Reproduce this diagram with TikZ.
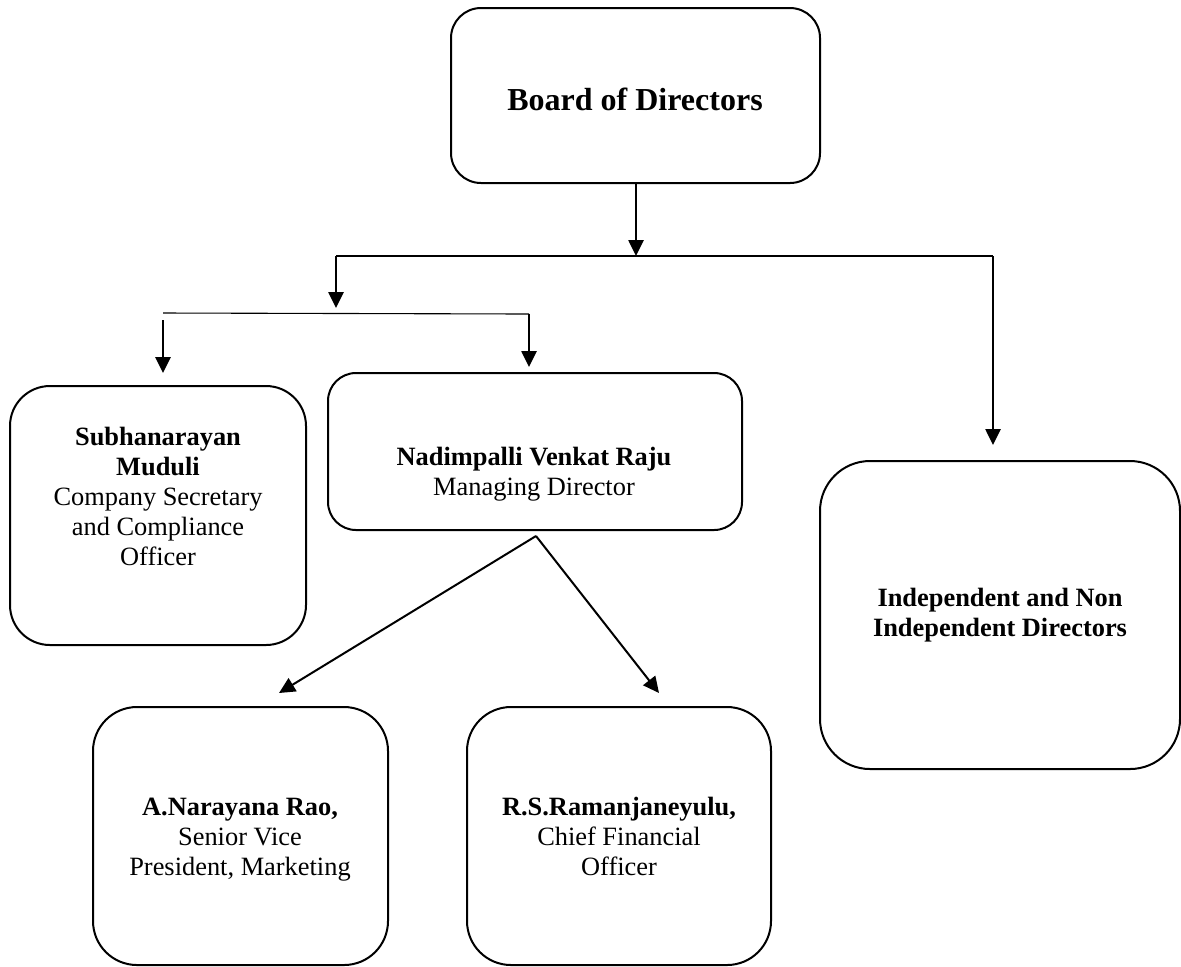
\documentclass[tikz,border=0pt]{standalone}
\usepackage{fontspec}
\setmainfont{Liberation Serif}
\usetikzlibrary{arrows.meta}
\begin{document}
\begin{tikzpicture}[x=0.5pt,y=-0.5pt,
  box/.style={draw=black,line width=1pt,rectangle,inner sep=0pt,outer sep=0pt},
  lbl/.style={anchor=base,align=center,inner sep=0pt,font=\fontsize{13.2}{15}\selectfont},
  arr/.style={line width=1pt,-{Triangle[width=7.6pt,length=8pt]}},
  hline/.style={line width=0.55pt}]
\useasboundingbox (0,0) rectangle (1181,966);
% boxes
\node[box,rounded corners=15pt,minimum width=184.5pt,minimum height=87.5pt] (board) at (635.5,95.5) {};
\node[box,rounded corners=20pt,minimum width=148pt,minimum height=129.5pt] (subh) at (158,515.5) {};
\node[box,rounded corners=14pt,minimum width=207pt,minimum height=78.5pt] (nadim) at (535,451.5) {};
\node[box,rounded corners=25pt,minimum width=180pt,minimum height=154pt] (indep) at (1000,615) {};
\node[box,rounded corners=22pt,minimum width=147.5pt,minimum height=129pt] (anr) at (240.5,836) {};
\node[box,rounded corners=22pt,minimum width=152pt,minimum height=129pt] (rsr) at (619,836) {};
% texts (base anchor = baseline of the last line)
\node[lbl,font=\fontsize{16}{19}\selectfont\bfseries] (tboard) at (635,110) {Board of Directors};
\node[lbl] (tsubh) at (158,565) {\textbf{Subhanarayan}\\\textbf{Muduli}\\Company Secretary\\and Compliance\\Officer};
\node[lbl] (tnadim) at (534,495) {\textbf{Nadimpalli Venkat Raju}\\Managing Director};
\node[lbl] (tindep) at (1000,636) {\textbf{Independent and Non}\\\textbf{Independent Directors}};
\node[lbl] (tanr) at (240,875) {\textbf{A.Narayana Rao,}\\Senior Vice\\President, Marketing};
\node[lbl] (trsr) at (619,875) {\textbf{R.S.Ramanjaneyulu,}\\Chief Financial\\Officer};
% junction coordinates
\coordinate (j1) at (636,256);
\coordinate (h1l) at (336,256);
\coordinate (h1r) at (993,256);
\coordinate (j2) at (336,308);
\coordinate (h2l) at (163,313);
\coordinate (h2r) at (529,314);
\coordinate (s1) at (163,320);
\coordinate (t1) at (163,373);
\coordinate (t2) at (529,367);
\coordinate (t3) at (993,445);
\coordinate (apex) at (536,536);
\coordinate (t4) at (279,693);
\coordinate (t5) at (659,693);
% connectors
\draw[arr] (board.south -| j1) -- (j1);
\draw[hline] (h1l) -- (h1r);
\draw[arr] (h1l) -- (j2);
\draw[hline] (h2l) -- (h2r);
\draw[arr] (s1) -- (t1);
\draw[arr] (h2r) -- (t2);
\draw[arr] (h1r) -- (t3);
\draw[arr] (apex) -- (t4);
\draw[arr] (apex) -- (t5);
\end{tikzpicture}
\end{document}
